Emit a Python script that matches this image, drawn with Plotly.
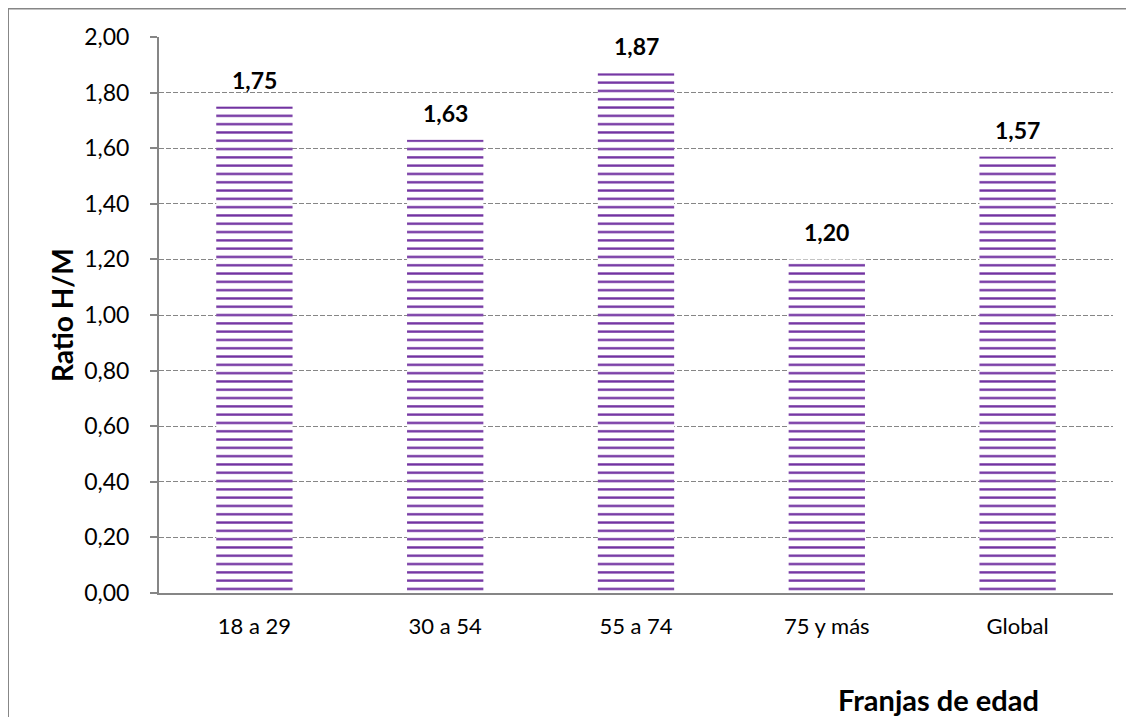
import plotly.graph_objects as go

categories = ["18 a 29", "30 a 54", "55 a 74", "75 y más", "Global"]
ratios = [1.75, 1.63, 1.87, 1.20, 1.57]
y_ticks = [0.0, 0.2, 0.4, 0.6, 0.8, 1.0, 1.2, 1.4, 1.6, 1.8, 2.0]

FONT = "Lato, Calibri, Arial, sans-serif"
GREY = "#868686"
PURPLE = "#7030A0"


def coma(v):
    return f"{v:.2f}".replace(".", ",")


fig = go.Figure(go.Bar(
    x=categories,
    y=ratios,
    marker=dict(
        color="white",
        line=dict(width=0),
        pattern=dict(shape="-", size=8.3, solidity=0.28, fgcolor=PURPLE, bgcolor="white",
                     fillmode="replace"),
    ),
    hoverinfo="skip",
))

# etiquetas de valor
for c, v in zip(categories, ratios):
    fig.add_annotation(x=c, y=v, text=f"<b>{coma(v)}</b>", showarrow=False,
                       yanchor="middle", yshift=27,
                       font=dict(family=FONT, size=23, color="black"))

# títulos de ejes
fig.add_annotation(xref="paper", yref="paper", x=-0.1017, y=0.5, text="<b>Ratio H/M</b>",
                   textangle=-90, showarrow=False, xanchor="center", yanchor="middle",
                   font=dict(family=FONT, size=28, color="black"))
fig.add_annotation(xref="paper", yref="paper", x=0.817, y=-0.192, text="<b>Franjas de edad</b>",
                   showarrow=False, xanchor="center", yanchor="middle",
                   font=dict(family=FONT, size=29, color="black"))

# borde del área del gráfico
fig.add_shape(type="path", xref="paper", yref="paper",
              path="M -0.1583,-0.25 L -0.1583,1.0513 L 1.05,1.0513",
              line=dict(color=GREY, width=2))

# la página añade 8 px de margen, por eso 1126x709
fig.update_layout(
    width=1126, height=709,
    margin=dict(l=151, r=21, t=29, b=124),
    paper_bgcolor="white", plot_bgcolor="white",
    bargap=0.6,
    showlegend=False,
    font=dict(family=FONT, size=22, color="black"),
    xaxis=dict(
        showline=True, linecolor=GREY, linewidth=2,
        ticks="", showgrid=False, ticklabelstandoff=13,
        tickfont=dict(family=FONT, size=22, color="black"),
    ),
    yaxis=dict(
        range=[0, 2.0], tickvals=y_ticks, ticktext=[coma(t) for t in y_ticks],
        showline=True, linecolor=GREY, linewidth=2,
        ticks="outside", ticklen=7, tickcolor=GREY, tickwidth=1.5,
        showgrid=True, gridcolor=GREY, gridwidth=1, griddash="5px,2px",
        zeroline=False, ticklabelstandoff=16,
        tickfont=dict(family=FONT, size=23, color="black"),
    ),
)

fig.write_html("out.html")
